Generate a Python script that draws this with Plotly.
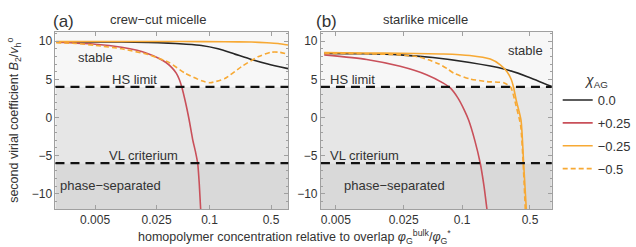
import plotly.graph_objects as go

# ---------------- data ----------------
# panel (a): crew-cut micelle
xa_black = [0.0018, 0.005, 0.01, 0.02, 0.034, 0.05, 0.081, 0.125, 0.194, 0.30, 0.46, 0.78]
ya_black = [9.9, 9.9, 9.88, 9.82, 9.74, 9.62, 9.44, 9.0, 8.3, 7.6, 7.0, 6.4]
xa_red = [0.0018, 0.005, 0.01, 0.015, 0.02, 0.026, 0.032, 0.0375, 0.0418, 0.0452, 0.0483, 0.0535, 0.0586, 0.0643, 0.0695, 0.0733, 0.0765, 0.0792]
ya_red = [9.85, 9.6, 9.2, 8.8, 8.35, 7.8, 7.2, 6.5, 5.8, 5.0, 4.0, 1.9, -0.3, -2.9, -4.6, -6.0, -8.8, -12.0]
xa_orange = [0.0018, 0.01, 0.05, 0.15, 0.3, 0.45, 0.6, 0.78]
ya_orange = [9.95, 9.95, 9.95, 9.93, 9.88, 9.8, 9.7, 9.5]
xa_dash = [0.0018, 0.003, 0.005, 0.01, 0.02, 0.0264, 0.0342, 0.0528, 0.0813, 0.101, 0.149, 0.230, 0.355, 0.50, 0.62, 0.78]
ya_dash = [9.8, 9.7, 9.45, 9.0, 8.25, 7.75, 7.25, 5.8, 4.8, 4.55, 5.1, 6.65, 7.95, 8.55, 8.55, 8.3]

# panel (b): starlike micelle
xb_black = [0.0038, 0.01, 0.023, 0.05, 0.12, 0.27, 0.47, 0.84]
yb_black = [8.4, 8.35, 8.2, 7.85, 7.2, 6.35, 5.35, 4.05]
xb_red = [0.0038, 0.0104, 0.023, 0.043, 0.064, 0.075, 0.09, 0.105, 0.1166, 0.135, 0.1537, 0.168, 0.18]
yb_red = [8.2, 7.6, 6.7, 5.6, 4.5, 3.9, 2.6, 1.0, -0.34, -3.0, -6.0, -9.0, -12.0]
xb_orange = [0.0038, 0.01, 0.023, 0.064, 0.12, 0.195, 0.247, 0.29, 0.32, 0.338, 0.36, 0.404, 0.43, 0.458]
yb_orange = [8.5, 8.45, 8.42, 8.32, 8.12, 7.65, 6.9, 6.0, 5.0, 4.0, 2.3, -0.34, -6.0, -12.0]
xb_dash = [0.0038, 0.01, 0.023, 0.035, 0.045, 0.058, 0.07, 0.082, 0.12, 0.18, 0.268, 0.313, 0.328, 0.36, 0.40, 0.425, 0.447]
yb_dash = [8.4, 8.35, 8.2, 7.95, 7.55, 7.0, 6.4, 5.8, 5.05, 4.7, 4.55, 4.05, 3.5, 1.5, -1.0, -6.0, -12.0]

series_names = ["0.0", "+0.25", "\u22120.25", "\u22120.5"]
x_tickvals = [0.005, 0.025, 0.1, 0.5]
x_ticktext = ["0.005", "0.025", "0.1", "0.5"]
y_tickvals = [-10, -5, 0, 5, 10]
y_ticktext = ["\u221210", "\u22125", "0", "5", "10"]
hs_limit = 4
vl_criterium = -6

# ---------------- styles ----------------
BLACK = "#262626"
RED = "#c9505a"
ORANGE = "#f7a934"
FONT = "Liberation Sans, Arial, sans-serif"
TXT = "#333333"

W, H = 636, 247


def px_x(p):
    return p / W


def px_y(p):
    return 1 - p / H


dom_a = [px_x(56), px_x(291)]
dom_b = [px_x(324), px_x(557)]
dom_y = [px_y(209), px_y(32)]

fig = go.Figure()

styles = [
    (BLACK, None),
    (RED, None),
    (ORANGE, None),
    (ORANGE, "5px,3px"),
]

data_a = [(xa_black, ya_black), (xa_red, ya_red), (xa_orange, ya_orange), (xa_dash, ya_dash)]
data_b = [(xb_black, yb_black), (xb_red, yb_red), (xb_orange, yb_orange), (xb_dash, yb_dash)]

for i, ((xs, ys), (col, dash)) in enumerate(zip(data_a, styles)):
    fig.add_trace(go.Scatter(
        x=xs, y=ys, mode="lines", xaxis="x", yaxis="y",
        line=dict(color=col, width=1.6, dash=dash, shape="spline", smoothing=0.6),
        name=series_names[i], legendgroup=f"g{i}", showlegend=True,
    ))
for i, ((xs, ys), (col, dash)) in enumerate(zip(data_b, styles)):
    fig.add_trace(go.Scatter(
        x=xs, y=ys, mode="lines", xaxis="x2", yaxis="y2",
        line=dict(color=col, width=1.6, dash=dash, shape="spline", smoothing=0.6),
        name=series_names[i], legendgroup=f"g{i}", showlegend=False,
    ))

shapes = []
for xr, yr in [("x domain", "y"), ("x2 domain", "y2")]:
    shapes.append(dict(type="rect", xref=xr, yref=yr, x0=0, x1=1, y0=hs_limit, y1=11.2,
                       fillcolor="#f7f7f7", line=dict(width=0), layer="below"))
    shapes.append(dict(type="rect", xref=xr, yref=yr, x0=0, x1=1, y0=vl_criterium, y1=hs_limit,
                       fillcolor="#e6e6e6", line=dict(width=0), layer="below"))
    shapes.append(dict(type="rect", xref=xr, yref=yr, x0=0, x1=1, y0=-12, y1=vl_criterium,
                       fillcolor="#d9d9d9", line=dict(width=0), layer="below"))
    for yv in (hs_limit, vl_criterium):
        shapes.append(dict(type="line", xref=xr, yref=yr, x0=0, x1=1, y0=yv, y1=yv,
                           line=dict(color="#111111", width=2.2, dash="9px,6px"), layer="above"))

axis_common = dict(
    showline=True, linecolor="#a0a0a0", linewidth=1, mirror="allticks",
    ticks="inside", ticklen=4, tickcolor="#a0a0a0",
    showgrid=False, zeroline=False,
    tickfont=dict(family=FONT, size=12, color=TXT),
    automargin=False,
)

xaxis_common = dict(axis_common, type="log", tickmode="array",
                    tickvals=x_tickvals, ticktext=x_ticktext)
yaxis_common = dict(axis_common, range=[-12, 11.2], tickmode="array",
                    tickvals=y_tickvals, ticktext=y_ticktext,
                    minor=dict(ticks="inside", ticklen=2, dtick=1, tickcolor="#a0a0a0"))

fig.update_layout(
    width=W, height=H,
    margin=dict(l=0, r=0, t=0, b=0),
    paper_bgcolor="white", plot_bgcolor="white",
    font=dict(family=FONT, size=12, color=TXT),
    xaxis=dict(xaxis_common, domain=dom_a, range=[-2.752, -0.105], anchor="y"),
    yaxis=dict(yaxis_common, domain=dom_y, anchor="x"),
    xaxis2=dict(xaxis_common, domain=dom_b, range=[-2.454, -0.077], anchor="y2"),
    yaxis2=dict(yaxis_common, domain=dom_y, anchor="x2"),
    shapes=shapes,
    showlegend=True,
    legend=dict(
        x=px_x(563), y=px_y(85), xanchor="left", yanchor="top",
        bgcolor="rgba(0,0,0,0)",
        font=dict(family=FONT, size=13, color=TXT),
        tracegroupgap=3,
        itemwidth=30,
    ),
)

ann = []


def add_text(px, py, text, size=13, xanchor="center", angle=0):
    ann.append(dict(x=px_x(px), y=px_y(py), xref="paper", yref="paper", text=text,
                    showarrow=False, xanchor=xanchor, yanchor="middle", textangle=angle,
                    font=dict(family=FONT, size=size, color=TXT)))


add_text(64, 21, "(a)", size=17)
add_text(160, 20, "crew\u2212cut micelle", size=13)
add_text(330, 21, "(b)", size=17)
add_text(430, 20, "starlike micelle", size=13)

add_text(96, 57, "stable")
add_text(136, 80, "HS limit")
add_text(145, 155, "VL criterium")
add_text(112, 185, "phase\u2212separated")

add_text(530, 50, "stable")
add_text(356, 80, "HS limit")
add_text(368, 155, "VL criterium")
add_text(398, 185, "phase\u2212separated")

# legend title
add_text(602, 81, "<i>\u03c7</i><sub>AG</sub>", size=14)

add_text(14, 120, "second virial coefficient <i>B</i><sub>2</sub>/<i>v</i><sub>h</sub><sup>o</sup>", size=12.5, angle=-90)
add_text(297, 237, "homopolymer concentration relative to overlap <i>\u03c6</i><sub>G</sub><sup>bulk</sup>/<i>\u03c6</i><sub>G</sub><sup>*</sup>", size=12.5)

fig.update_layout(annotations=ann)

fig.write_html("out.html", config={"displayModeBar": False},
               post_script="document.body.style.margin='0';document.body.style.overflow='hidden';")
